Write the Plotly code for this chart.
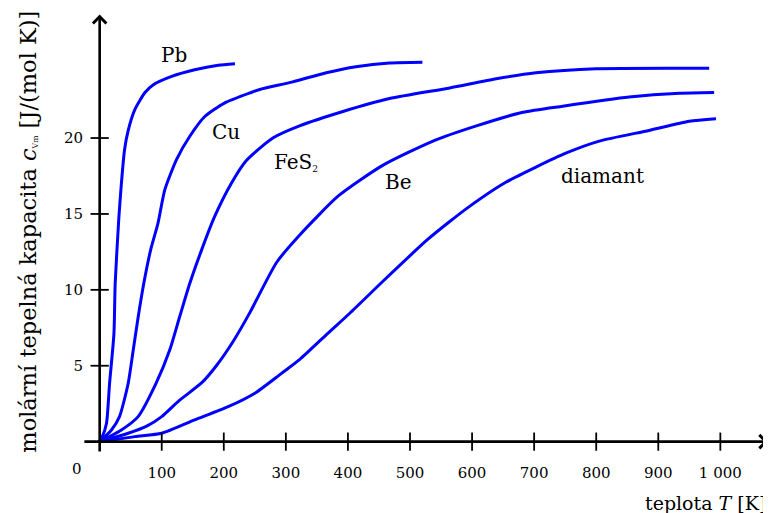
import plotly.graph_objects as go

# ---- data (T in K, C in J/(mol K)) ----
pb_T = [0, 4, 11, 16, 23, 25, 31, 35, 40, 46, 57, 73, 86, 116, 153, 191, 218]
pb_C = [0, 0.3, 1.2, 3.85, 7.1, 10.4, 14.8, 17.0, 19.2, 20.5, 21.9, 23.0, 23.5, 24.06, 24.5, 24.8, 24.9]

cu_T = [0, 19, 32, 46, 54, 62, 71, 82, 94, 105, 124, 145, 169, 201, 244, 258, 311, 365, 413, 467, 520]
cu_C = [0, 0.77, 1.65, 3.85, 6.0, 8.2, 10.4, 12.6, 14.4, 16.6, 18.6, 20.1, 21.4, 22.3, 23.0, 23.2, 23.7, 24.3, 24.7, 24.95, 25.0]

fes2_T = [0, 35, 62, 91, 113, 129, 145, 164, 185, 212, 236, 279, 322, 392, 467, 564, 639, 703, 800, 982]
fes2_C = [0, 0.77, 1.65, 3.85, 6.05, 8.24, 10.4, 12.6, 14.8, 17.0, 18.5, 20.0, 20.8, 21.75, 22.6, 23.3, 23.9, 24.3, 24.57, 24.6]

be_T = [0, 46, 75, 100, 128, 165, 188, 215, 242, 285, 322, 385, 456, 537, 607, 682, 746, 853, 934, 990]
be_C = [0, 0.55, 1.0, 1.65, 2.7, 3.9, 5.0, 6.6, 8.5, 11.8, 13.6, 16.2, 18.2, 19.8, 20.8, 21.7, 22.1, 22.7, 22.95, 23.0]

dia_T = [0, 57, 100, 153, 207, 250, 293, 322, 368, 403, 456, 528, 564, 596, 655, 751, 805, 885, 950, 993]
dia_C = [0, 0.33, 0.55, 1.43, 2.3, 3.19, 4.5, 5.4, 7.15, 8.46, 10.55, 13.3, 14.5, 15.5, 17.1, 19.0, 19.8, 20.5, 21.1, 21.27]

x_ticks = [100, 200, 300, 400, 500, 600, 700, 800, 900, 1000]
x_ticklabels = ["100", "200", "300", "400", "500", "600", "700", "800", "900", "1 000"]
y_ticks = [5, 10, 15, 20]
y_ticklabels = ["5", "10", "15", "20"]

FONT = "DejaVu Serif"
BLUE = "#0000ff"

fig = go.Figure()
for T, C, name in [(pb_T, pb_C, "Pb"), (cu_T, cu_C, "Cu"), (fes2_T, fes2_C, "FeS2"),
                   (be_T, be_C, "Be"), (dia_T, dia_C, "diamant")]:
    fig.add_trace(go.Scatter(x=T, y=C, mode="lines", name=name,
                             line=dict(color=BLUE, width=3, shape="spline", smoothing=0.6),
                             hoverinfo="skip", showlegend=False))

# cross tick marks on the axes
fig.add_trace(go.Scatter(x=x_ticks, y=[0] * len(x_ticks), mode="markers", showlegend=False,
                         hoverinfo="skip", cliponaxis=False,
                         marker=dict(symbol="line-ns", size=13, line=dict(color="black", width=1.8))))
fig.add_trace(go.Scatter(x=[0] * len(y_ticks), y=y_ticks, mode="markers", showlegend=False,
                         hoverinfo="skip", cliponaxis=False,
                         marker=dict(symbol="line-ew", size=13, line=dict(color="black", width=1.8))))

annotations = []
# axis arrows
annotations.append(dict(x=1077, y=0, ax=-27, ay=0, xref="x", yref="y", axref="x", ayref="y",
                        text="", showarrow=True, arrowhead=4, arrowsize=1, arrowwidth=2.6,
                        arrowcolor="black"))
annotations.append(dict(x=0, y=28.13, ax=0, ay=-0.75, xref="x", yref="y", axref="x", ayref="y",
                        text="", showarrow=True, arrowhead=4, arrowsize=1, arrowwidth=2.6,
                        arrowcolor="black"))

lab_font = dict(family=FONT, size=20, color="black")
for txt, x, y in [("Pb", 119, 25.5), ("Cu", 203, 20.4), ("FeS<span style='font-size:13px'><sub>2</sub></span>", 316, 18.4),
                  ("Be", 482, 17.1), ("diamant", 810, 17.5)]:
    annotations.append(dict(x=x, y=y, xref="x", yref="y", text=txt, showarrow=False,
                            font=lab_font, xanchor="center", yanchor="middle"))

annotations.append(dict(x=-0.0136, y=-0.0313, xref="paper", yref="paper", text="0",
                        showarrow=False, font=dict(family=FONT, size=15, color="black"),
                        xanchor="center", yanchor="middle"))
annotations.append(dict(x=0.9967, y=-0.1076, xref="paper", yref="paper",
                        text="teplota <i>T</i> [K]", showarrow=False,
                        font=dict(family=FONT, size=19, color="black"),
                        xanchor="right", yanchor="middle"))
annotations.append(dict(x=-0.0849, y=0.5005, xref="paper", yref="paper", textangle=-90,
                        text="molární tepelná kapacita <i>c</i><span style='font-size:11px'><sub>Vm</sub></span> [J/(mol K)]",
                        showarrow=False, font=dict(family=FONT, size=22.5, color="black"),
                        xanchor="center", yanchor="middle"))

# the page body adds an 8 px offset, so the figure is 8 px smaller than the window
fig.update_layout(
    width=763, height=505,
    margin=dict(l=78.36, r=0.8, t=1.35, b=57.95, pad=0),
    paper_bgcolor="white", plot_bgcolor="white",
    annotations=annotations,
    xaxis=dict(range=[-22, 1080], showgrid=False, zeroline=False, showline=False,
               tickmode="array", tickvals=x_ticks, ticktext=x_ticklabels, ticks="",
               ticklabelstandoff=7,
               tickfont=dict(family=FONT, size=15, color="black")),
    yaxis=dict(range=[-0.88, 28.5], showgrid=False, zeroline=False, showline=False,
               tickmode="array", tickvals=y_ticks, ticktext=y_ticklabels, ticks="",
               ticklabelstandoff=2,
               tickfont=dict(family=FONT, size=15, color="black")),
)

fig.write_html("out.html")
